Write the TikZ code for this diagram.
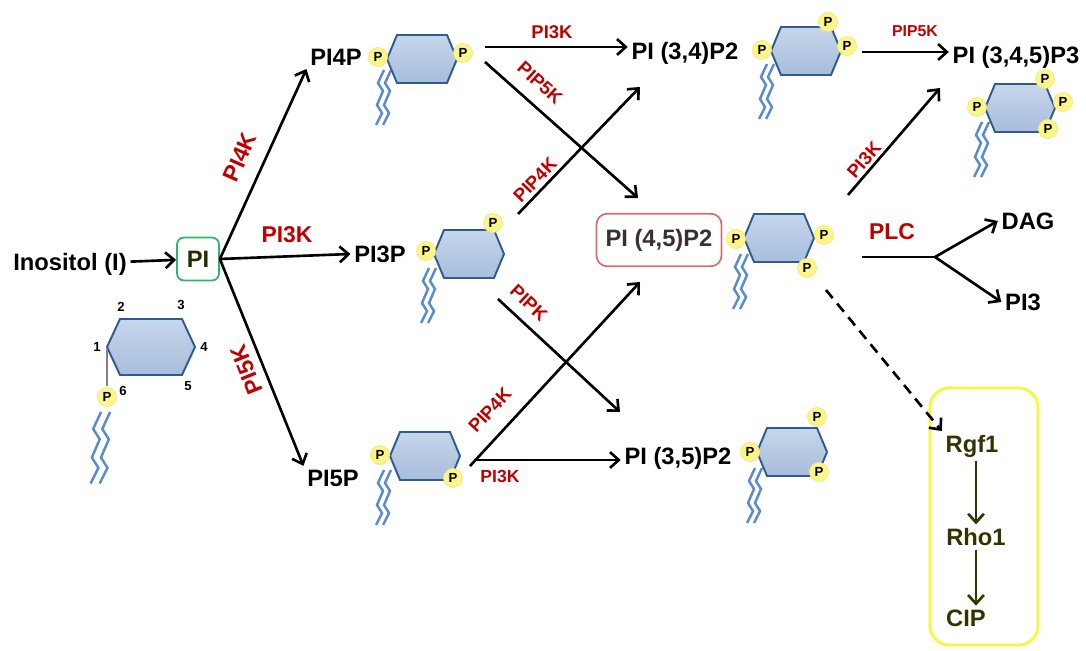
\documentclass[tikz,border=0pt]{standalone}
\usepackage{fontspec}
\setmainfont{Liberation Sans}
\usepackage{tikz}
\usetikzlibrary{arrows.meta, calc}

\definecolor{enzred}{HTML}{C00000}
\definecolor{ringfill}{HTML}{B4C8E4}
\definecolor{ringedge}{HTML}{2F5B8E}
\definecolor{tailblue}{HTML}{5B8BCB}
\definecolor{pyellow}{HTML}{FBF68C}
\definecolor{pigreen}{HTML}{2DB56A}
\definecolor{boxred}{HTML}{D07070}
\definecolor{sigyellow}{HTML}{F7F73A}
\definecolor{sigtext}{HTML}{333300}
\definecolor{darktext}{HTML}{3A3030}

% head group and fatty tails
\tikzset{
  pics/ring/.style={code={
    \draw[ringline] (-35,0) -- (-25,-24) -- (25,-24) -- (35,0) -- (25,24) -- (-25,24) -- cycle;
  }},
  pics/tails/.style={code={
    \draw[tailline] (0,0) -- (-6,13) -- (-1,21) -- (-7,35) -- (-2,43) -- (-8,55);
    \draw[tailline] (7,0) -- (1,13) -- (6,21) -- (0,35) -- (5,43) -- (-1,55);
  }},
}

\begin{document}
\begin{tikzpicture}[x=0.02cm, y=-0.02cm,
  lbl/.style={font=\bfseries\fontsize{13.5}{15}\selectfont, inner sep=2pt},
  enz/.style={font=\bfseries\fontsize{10.5}{12}\selectfont, text=enzred, inner sep=1pt},
  enzbig/.style={enz, font=\bfseries\fontsize{13}{15}\selectfont},
  num/.style={font=\bfseries\fontsize{7.5}{8}\selectfont, inner sep=0pt},
  pball/.style={circle, fill=pyellow, draw=pyellow!85!orange, inner sep=0pt, minimum size=0.38cm, font=\bfseries\fontsize{7.5}{8}\selectfont},
  ringline/.style={draw=ringedge, line width=1.1pt, top color=ringfill!75!white, bottom color=ringfill!90!ringedge},
  tailline/.style={tailblue, line width=1.4pt},
  arr/.style={->, >={Straight Barb[length=5pt,width=9pt]}, line width=1.5pt},
  pibox/.style={lbl, draw=pigreen, line width=1pt, rounded corners=4pt, minimum width=0.84cm, minimum height=0.86cm, text=sigtext!80!black},
  pipbox/.style={lbl, draw=boxred, line width=1pt, rounded corners=6pt, minimum width=2.5cm, minimum height=1.05cm, text=darktext}]
\useasboundingbox (0,0) rectangle (1086,651);

% Inositol -> PI
\node[lbl] (ino) at (70,264) {Inositol (I)};
\node[pibox] (pi) at (198,259) {PI};
\draw[arr] (ino) -- (pi);

% numbered ring
\pic[scale=1.3] at (101,412) {tails};
\draw[ringline] (107,347) -- (120,319) -- (182,319) -- (195,347) -- (182,375) -- (120,375) -- cycle;
\draw[gray, line width=0.8pt] (107,349) -- (107,386);
\node[pball] (p0) at (107,397) {P};
\node[num] (n1) at (97,347) {1};
\node[num] (n2) at (121,307) {2};
\node[num] (n3) at (181,305) {3};
\node[num] (n4) at (204,347) {4};
\node[num] (n5) at (188,386) {5};
\node[num] (n6) at (123,391) {6};

% monophosphates
\node[lbl] (pi4p) at (336,57) {PI4P};
\pic at (384,70) {tails};
\pic at (422,59) {ring};
\node[pball] (p4l) at (378,57) {P};
\node[pball] (p4r) at (463,53) {P};

\node[lbl] (pi3p) at (380,254) {PI3P};
\pic at (429,268) {tails};
\pic at (469,254) {ring};
\node[pball] (p3l) at (426,251) {P};
\node[pball] (p3t) at (493,223) {P};

\node[lbl] (pi5p) at (333,478) {PI5P};
\pic at (384,470) {tails};
\pic at (425,456) {ring};
\node[pball] (p5l) at (380,455) {P};
\node[pball] (p5b) at (453,478) {P};

% bisphosphates
\node[lbl] (pi34) at (685,53) {PI (3,4)P2};
\pic at (767,64) {tails};
\pic at (806,51) {ring};
\node[pball] (p34l) at (762,50) {P};
\node[pball] (p34t) at (828,22) {P};
\node[pball] (p34r) at (847,46) {P};

\node[pipbox] (pi45) at (659,240) {PI (4,5)P2};
\pic at (741,254) {tails};
\pic at (779,238) {ring};
\node[pball] (p45l) at (736,239) {P};
\node[pball] (p45r) at (824,235) {P};
\node[pball] (p45b) at (807,268) {P};

\node[lbl] (pi35) at (678,458) {PI (3,5)P2};
\pic at (755,468) {tails};
\pic at (792,452) {ring};
\node[pball] (p35l) at (750,452) {P};
\node[pball] (p35t) at (817,417) {P};
\node[pball] (p35b) at (819,472) {P};

% trisphosphate
\node[lbl] (pip3) at (1016,57) {PI (3,4,5)P3};
\pic at (982,122) {tails};
\pic at (1020,108) {ring};
\node[pball] (p3a) at (977,107) {P};
\node[pball] (p3b) at (1045,79) {P};
\node[pball] (p3c) at (1063,102) {P};
\node[pball] (p3d) at (1048,129) {P};

% PLC products
\node[lbl] (dag) at (1028,221) {DAG};
\node[lbl] (pi3) at (1023,302) {PI3};

% Rgf1 branch
\draw[sigyellow, line width=1.6pt, rounded corners=11pt] (930,388) rectangle (1038,645);
\node[lbl, text=sigtext] (rgf) at (972,446) {Rgf1};
\node[lbl, text=sigtext] (rho) at (976,537) {Rho1};
\node[lbl, text=sigtext] (cip) at (966,618) {CIP};

% arrow ends
\coordinate (c4a) at (485,47);
\coordinate (c4b) at (485,62);
\coordinate (c3a) at (518,214);
\coordinate (c3b) at (498,299);
\coordinate (c5a) at (470,466);
\coordinate (c5b) at (474,460);
\coordinate (c34) at (862,52);
\coordinate (c45a) at (848,195);
\coordinate (c45b) at (862,257);
\coordinate (c45c) at (826,290);
\coordinate (t34) at (640,87);
\coordinate (t45a) at (638,198);
\coordinate (t45b) at (640,282);
\coordinate (t35) at (620,412);
\coordinate (t345) at (940,88);
\coordinate (fork) at (935,257);

% kinase steps
\draw[arr] (pi.east) -- (pi4p.south west);
\draw[arr] (pi.east) -- (pi3p.west);
\draw[arr] (pi.east) -- (pi5p.north west);
\draw[arr] (c4a) -- (c4a -| pi34.west);
\draw[arr] (c4b) -- (t45a);
\draw[arr] (c3a) -- (t34);
\draw[arr] (c3b) -- (t35);
\draw[arr] (c5a) -- (t45b);
\draw[arr] (c5b) -- (c5b -| pi35.west);
\draw[arr] (c34) -- (c34 -| pip3.west);
\draw[arr] (c45a) -- (t345);
% PLC split
\draw[line width=1.7pt] (c45b) -- (fork);
\draw[arr] (fork) -- (dag.west);
\draw[arr] (fork) -- (pi3.west);
\draw[arr, dashed, dash pattern=on 6pt off 4pt] (c45c) -- (rgf.north west);
\draw[arr, sigtext] (rgf.south -| rho.north) -- (rho.north);
\draw[arr, sigtext] (rho.south) -- (rho.south |- cip.north);

% enzymes
\node[enzbig, rotate=66] (k4) at (240,157) {PI4K};
\node[enzbig] (k3) at (287,235) {PI3K};
\node[enzbig, rotate=112] (k5) at (247,370) {PI5K};
\node[enz] (k3a) at (552,32) {PI3K};
\node[enz, rotate=-42] (k5a) at (540,83) {PIP5K};
\node[enz, rotate=46] (k4a) at (535,180) {PIP4K};
\node[enz, rotate=-43] (kpa) at (529,303) {PIPK};
\node[enz, rotate=47] (k4b) at (490,410) {PIP4K};
\node[enz, font=\bfseries\fontsize{10}{12}\selectfont] (k3b) at (500,476) {PI3K};
\node[enz, font=\bfseries\fontsize{9}{11}\selectfont] (k5b) at (915,31) {PIP5K};
\node[enz, rotate=49] (k3c) at (864,160) {PI3K};
\node[enzbig] (plc) at (892,232) {PLC};

\end{tikzpicture}
\end{document}
